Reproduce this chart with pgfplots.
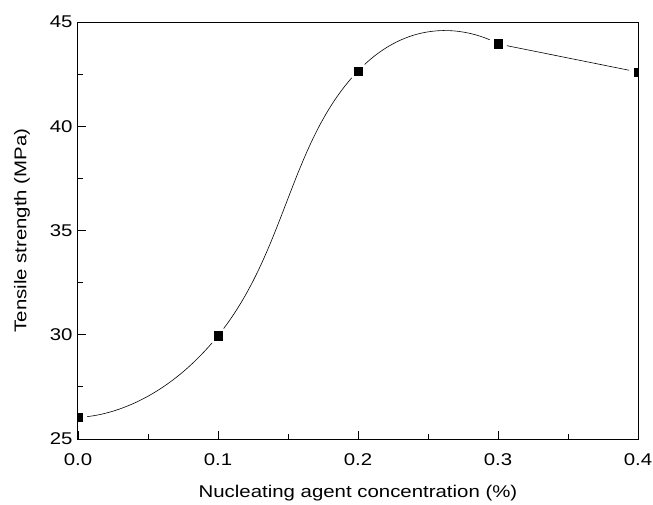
\documentclass[border=0pt]{standalone}
\usepackage{fontspec}
\setmainfont[FakeStretch=1.2]{Liberation Sans}
\usepackage{pgfplots}
\pgfplotsset{compat=1.18}
\pgfplotstableread{
x y
0.0 26.05
0.1 29.95
0.2 42.65
0.3 43.95
0.4 42.6
}\datatable
\begin{document}
\begin{tikzpicture}
\begin{axis}[
 at={(0,0)}, anchor=south west,
 scale only axis, width=560pt, height=417pt,
 xmin=0, xmax=0.4, ymin=25, ymax=45,
 xtick={0,0.1,0.2,0.3,0.4},
 xticklabels={0.0,0.1,0.2,0.3,0.4},
 minor xtick={0.05,0.15,0.25,0.35},
 ytick={25,30,35,40,45},
 minor ytick={27.5,32.5,37.5,42.5},
 tick pos=left, tick align=inside,
 major tick length=8pt, minor tick length=5pt,
 every tick/.style={black, line width=0.8pt},
 axis line style={line width=1pt},
 tick label style={font=\fontsize{17}{20}\selectfont},
 xticklabel style={yshift=-11pt},
 yticklabel style={xshift=-2pt},
 label style={font=\fontsize{17}{20}\selectfont},
 xlabel style={yshift=-13pt},
 ylabel style={yshift=13pt},
 /pgf/number format/assume math mode=true,
 xlabel={Nucleating agent concentration (\%)},
 ylabel={Tensile strength (MPa)},
 axis on top, clip marker paths=true,
]
\addplot[black, line width=0.6pt, smooth, tension=0.875,
  restrict x to domain=-0.05:0.35] table[x=x,y=y] {\datatable};
\addplot[black, line width=0.6pt, sharp plot,
  restrict x to domain=0.25:0.45] table[x=x,y=y] {\datatable};
\addplot[only marks, mark=*, mark size=9pt, white] table[x=x,y=y] {\datatable};
\addplot[only marks, mark=square*, mark size=4.2pt, black] table[x=x,y=y] {\datatable};
\end{axis}
\pgfresetboundingbox
\path[use as bounding box] (-78pt,-65pt) rectangle (575pt,439pt);
\end{tikzpicture}
\end{document}
